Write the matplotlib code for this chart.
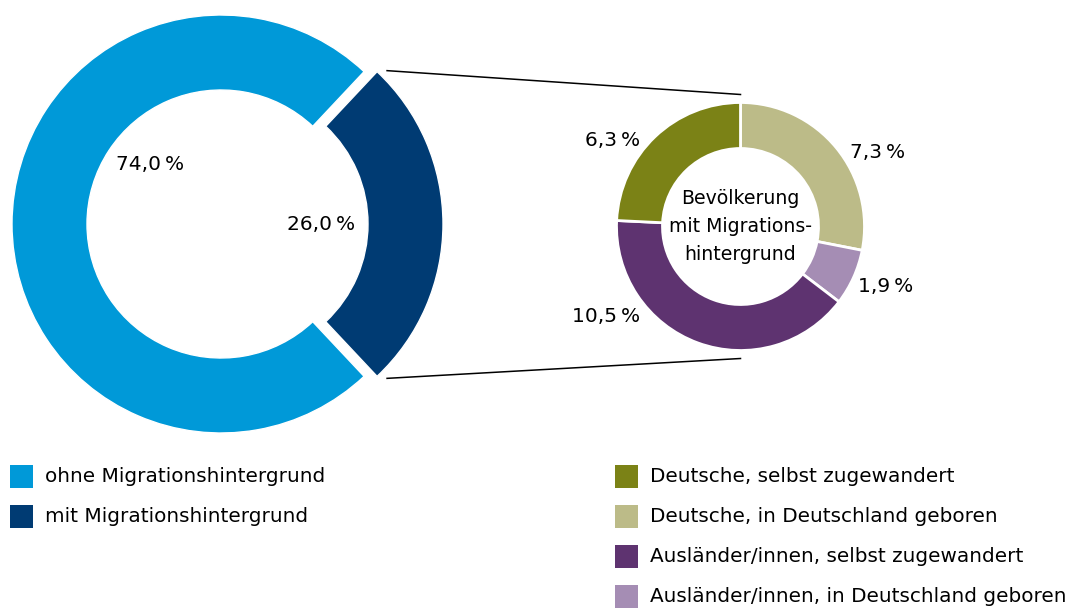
import matplotlib
matplotlib.use('Agg')
import matplotlib.pyplot as plt
from matplotlib.patches import Rectangle
import math

# Daten
gesamt_labels = ['mit Migrationshintergrund', 'ohne Migrationshintergrund']
gesamt_werte = [26.0, 74.0]
gesamt_farben = ['#003B73', '#0099D8']

migr_labels = ['Deutsche, in Deutschland geboren',
               'Ausländer/innen, in Deutschland geboren',
               'Ausländer/innen, selbst zugewandert',
               'Deutsche, selbst zugewandert']
migr_werte = [7.3, 1.9, 10.5, 6.3]
migr_farben = ['#BCBB88', '#A58DB4', '#5E3370', '#7B8216']

legende_links = ['ohne Migrationshintergrund', 'mit Migrationshintergrund']
legende_links_farben = ['#0099D8', '#003B73']
legende_rechts = ['Deutsche, selbst zugewandert',
                  'Deutsche, in Deutschland geboren',
                  'Ausländer/innen, selbst zugewandert',
                  'Ausländer/innen, in Deutschland geboren']
legende_rechts_farben = ['#7B8216', '#BCBB88', '#5E3370', '#A58DB4']

def fmt(v):
    return f'{v:.1f}'.replace('.', ',') + '\u2009%'

# Layout in Pixeln (y von oben)
W, H = 1073, 611
def Y(py):
    return H - py

plt.rcParams['font.family'] = ['DejaVu Sans']
fig = plt.figure(figsize=(W / 100, H / 100), dpi=100)
ax = fig.add_axes([0, 0, 1, 1])

# großer Ring
big_c = (221, 224)
big_r, big_w = 209, 75
big_expl = 13
teil = gesamt_werte[0] / sum(gesamt_werte) * 360
ax.pie(gesamt_werte, colors=gesamt_farben, startangle=-teil / 2,
       counterclock=True, radius=big_r, center=(big_c[0], Y(big_c[1])),
       explode=[big_expl, 0],
       wedgeprops=dict(width=big_w, edgecolor='white', linewidth=1))

# kleiner Ring
sm_c = (740.5, 226.5)
sm_r, sm_w = 124, 46
ax.pie(migr_werte, colors=migr_farben, startangle=90, counterclock=False,
       radius=sm_r, center=(sm_c[0], Y(sm_c[1])),
       wedgeprops=dict(width=sm_w, edgecolor='white', linewidth=2))

# Verbindungslinien
a = math.radians(teil / 2)
x0 = big_c[0] + big_expl + big_r * math.cos(a) + 10
y_top0 = big_c[1] - big_r * math.sin(a) - 1
y_bot0 = big_c[1] + big_r * math.sin(a) + 2
ax.plot([x0, sm_c[0]], [Y(y_top0), Y(sm_c[1] - sm_r - 8)], color='black', lw=1.1)
ax.plot([x0, sm_c[0]], [Y(y_bot0), Y(sm_c[1] + sm_r + 8)], color='black', lw=1.1)

# Beschriftungen
fs = 14.5
ax.text(150, Y(165), fmt(gesamt_werte[1]), fontsize=fs, ha='center', va='center')
ax.text(321, Y(224), fmt(gesamt_werte[0]), fontsize=fs, ha='center', va='center')
for val, (px, py) in zip(migr_werte, [(878, 153), (886, 287), (606, 317), (613, 140)]):
    ax.text(px, Y(py), fmt(val), fontsize=fs, ha='center', va='center')

ax.text(sm_c[0], Y(sm_c[1]), 'Bevölkerung\nmit Migrations-\nhintergrund',
        fontsize=13.6, ha='center', va='center', linespacing=1.58)

# Legenden
sq = 23
lfs = 14.4
for i, (lab, col) in enumerate(zip(legende_links, legende_links_farben)):
    top = 465 + i * 40
    ax.add_patch(Rectangle((10, Y(top + sq)), sq, sq, color=col, lw=0))
    ax.text(45, Y(top + sq / 2), lab, fontsize=lfs, ha='left', va='center')
for i, (lab, col) in enumerate(zip(legende_rechts, legende_rechts_farben)):
    top = 465 + i * 40
    ax.add_patch(Rectangle((615, Y(top + sq)), sq, sq, color=col, lw=0))
    ax.text(650, Y(top + sq / 2), lab, fontsize=lfs, ha='left', va='center')

ax.set_xlim(0, W)
ax.set_ylim(0, H)
ax.set_aspect('auto')
ax.axis('off')

fig.savefig('out.png', dpi=100, facecolor='white')
